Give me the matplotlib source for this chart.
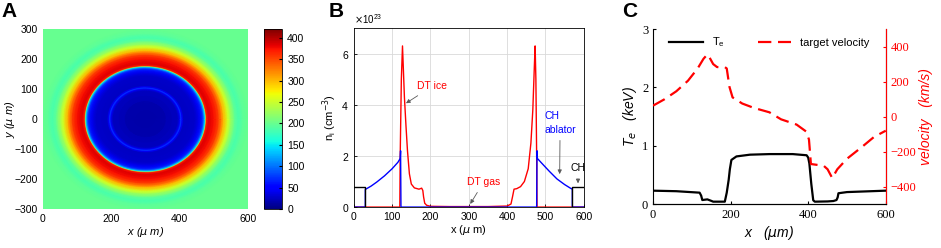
import numpy as np
import matplotlib
matplotlib.use('Agg')
import matplotlib.pyplot as plt
from matplotlib.ticker import ScalarFormatter

# ---- panel A: radial profile of the map (um, value)
a_r = [0, 60, 95, 101, 104, 107, 112, 145, 155, 163, 168, 172, 175, 176.5,
       178, 185, 200, 215, 228, 240, 250, 262, 272, 285, 300, 450]
a_val = [12, 20, 25, 50, 80, 50, 25, 28, 40, 60, 75, 120, 150, 250,
         370, 385, 375, 350, 300, 255, 225, 195, 185, 195, 200, 200]
a_center = (300, 0)
a_ticks = [0, 50, 100, 150, 200, 250, 300, 350, 400]

# ---- panel B: ion density (units of 1e23 cm^-3)
b_ch_l_x = [0, 30, 30]
b_ch_l_y = [0.8, 0.8, 0]
b_ch_r_x = [570, 570, 600]
b_ch_r_y = [0, 0.8, 0.8]
b_abl_x = [0, 30, 30, 45, 60, 80, 100, 115, 121, 122, 123, 477, 478, 479,
           490, 510, 530, 550, 565, 570, 570, 600]
b_abl_y = [0, 0, 0.69, 0.82, 0.98, 1.22, 1.5, 1.75, 1.9, 2.2, 0, 0, 2.2, 1.9,
           1.72, 1.4, 1.1, 0.88, 0.74, 0.7, 0, 0]
b_dt_x = [0, 120, 121, 124, 127, 129, 132, 136, 140, 145, 150, 158, 170, 177,
          180, 182, 185, 190, 200, 250, 300, 350, 400, 410, 414, 418, 425, 435,
          445, 455, 462, 467, 471, 473, 475, 477, 478, 600]
b_dt_y = [0, 0, 2.0, 5.0, 6.3, 5.5, 4.3, 3.2, 2.2, 1.3, 0.9, 0.75, 0.7, 0.74,
          0.65, 0.4, 0.15, 0.07, 0.03, 0.02, 0.02, 0.02, 0.04, 0.12, 0.4, 0.7,
          0.72, 0.8, 1.0, 1.5, 2.5, 3.8, 5.5, 6.3, 5.0, 2.0, 0, 0]
b_scale = 1e23

# ---- panel C: electron temperature (keV) and target velocity (km/s)
c_te_x = [0, 60, 120, 124, 127, 140, 150, 155, 185, 190, 195, 198, 202, 215,
          250, 301, 360, 396, 400, 403, 408, 413, 417, 450, 465, 473, 476,
          478, 500, 600]
c_te_y = [0.234, 0.225, 0.2, 0.15, 0.074, 0.085, 0.06, 0.046, 0.046, 0.2,
          0.42, 0.6, 0.76, 0.82, 0.85, 0.86, 0.86, 0.84, 0.8, 0.7, 0.35,
          0.07, 0.046, 0.05, 0.057, 0.074, 0.12, 0.19, 0.21, 0.234]
c_v_x = [0, 30, 60, 90, 115, 130, 140, 145, 155, 165, 185, 190, 197, 205,
         230, 260, 300, 330, 370, 395, 402, 407, 440, 450, 462, 475, 500,
         540, 570, 600]
c_v_y = [63, 100, 145, 205, 275, 330, 355, 340, 300, 283, 283, 275, 170,
         110, 75, 50, 25, -15, -45, -85, -130, -270, -280, -300, -350, -300,
         -240, -170, -115, -80]

plt.rcParams['font.family'] = ['Liberation Sans', 'DejaVu Sans']
plt.rcParams['xtick.direction'] = 'in'
plt.rcParams['ytick.direction'] = 'in'

fig = plt.figure(figsize=(9.41, 2.48), dpi=100)

# ================= A
axA = fig.add_axes([0.0454, 0.157, 0.218, 0.725])
cax = fig.add_axes([0.281, 0.157, 0.019, 0.725])
theta = np.linspace(0, 2 * np.pi, 721)
R, T = np.meshgrid(np.array(a_r, float), theta)
V = np.tile(np.array(a_val, float), (len(theta), 1))
X = a_center[0] + R * np.cos(T)
Y = a_center[1] + R * np.sin(T)
mesh = axA.pcolormesh(X, Y, V, cmap='jet', vmin=0, vmax=420, shading='gouraud')
axA.set_xlim(0, 600)
axA.set_ylim(-300, 300)
axA.set_xticks([0, 200, 400, 600])
axA.set_yticks(range(-300, 301, 100))
axA.tick_params(labelsize=7.5, length=0)
axA.set_xlabel('x ($\\mu$ m)', fontsize=8, style='italic', labelpad=1)
axA.set_ylabel('y ($\\mu$ m)', fontsize=8, style='italic', labelpad=-2)
for s in axA.spines.values():
    s.set_visible(False)
cb = fig.colorbar(mesh, cax=cax, ticks=a_ticks)
cb.ax.tick_params(labelsize=7.5, direction='in', length=2)
cb.outline.set_linewidth(0.6)
fig.text(0.002, 0.93, 'A', fontsize=15, fontweight='bold')

# ================= B
axB = fig.add_axes([0.376, 0.165, 0.2444, 0.722])
axB.plot(b_dt_x, np.array(b_dt_y) * b_scale, color='red', lw=1)
axB.plot(b_abl_x, np.array(b_abl_y) * b_scale, color='blue', lw=1)
axB.plot(b_ch_l_x, np.array(b_ch_l_y) * b_scale, color='black', lw=1)
axB.plot(b_ch_r_x, np.array(b_ch_r_y) * b_scale, color='black', lw=1)
axB.set_xlim(0, 600)
axB.set_ylim(0, 7e23)
axB.set_xticks(range(0, 601, 100))
axB.set_yticks([0, 2e23, 4e23, 6e23])
fmt = ScalarFormatter(useMathText=True)
fmt.set_powerlimits((0, 0))
axB.yaxis.set_major_formatter(fmt)
axB.yaxis.get_offset_text().set_fontsize(7)
axB.grid(True, color='0.85', lw=0.6)
axB.tick_params(labelsize=7.5, length=2, width=0.6)
for s in axB.spines.values():
    s.set_linewidth(0.6)
axB.set_xlabel('x ($\\mu$ m)', fontsize=8, labelpad=1)
axB.set_ylabel('n$_\\mathregular{i}$ (cm$^{-3}$)', fontsize=8, labelpad=2)
arw = dict(arrowstyle='-|>', color='0.35', lw=0.6, mutation_scale=6)
axB.annotate('DT ice', xy=(130, 4.0e23), xytext=(165, 4.6e23), color='red',
             fontsize=7.5, arrowprops=arw)
axB.annotate('DT gas', xy=(300, 0.03e23), xytext=(295, 0.85e23), color='red',
             fontsize=7.5, arrowprops=arw)
axB.annotate('CH\nablator', xy=(537, 1.18e23), xytext=(497, 2.9e23),
             color='blue', fontsize=7.5, arrowprops=arw, linespacing=1.5)
axB.annotate('CH', xy=(585, 0.82e23), xytext=(565, 1.4e23), color='black',
             fontsize=7.5, arrowprops=arw)
fig.text(0.349, 0.93, 'B', fontsize=15, fontweight='bold')

# ================= C
axC = fig.add_axes([0.694, 0.176, 0.2473, 0.707])
axV = axC.twinx()
axC.plot(c_te_x, c_te_y, color='black', lw=1.6, label='T$_\\mathregular{e}$')
axV.plot(c_v_x, c_v_y, color='red', lw=1.6, ls=(0, (6, 3)),
         label='target velocity')
axC.set_xlim(0, 600)
axC.set_ylim(0, 3)
axV.set_ylim(-500, 500)
axC.set_xticks([0, 200, 400, 600])
axC.set_yticks([0, 1, 2, 3])
axV.set_yticks([-400, -200, 0, 200, 400])
serif = ['Liberation Serif', 'DejaVu Serif']
for lab in axC.get_xticklabels() + axC.get_yticklabels() + axV.get_yticklabels():
    lab.set_family(serif)
axC.tick_params(labelsize=9, length=2.5)
axV.tick_params(labelsize=9, length=2.5, colors='red')
axC.spines['top'].set_visible(False)
axV.spines['top'].set_visible(False)
axV.spines['right'].set_color('red')
axV.spines['left'].set_visible(False)
axC.set_xlabel('x   ($\\mu$m)', fontsize=10, style='italic', labelpad=2)
axC.set_ylabel('T$_\\mathit{e}$   (keV)', fontsize=10, style='italic', labelpad=2)
axV.set_ylabel('velocity   (km/s)', fontsize=10, style='italic', color='red',
               labelpad=2)
h1, l1 = axC.get_legend_handles_labels()
h2, l2 = axV.get_legend_handles_labels()
axC.legend(h1 + h2, l1 + l2, loc='upper center', ncol=2, frameon=False,
           fontsize=8, handlelength=3, columnspacing=3,
           bbox_to_anchor=(0.5, 1.02))
fig.text(0.661, 0.93, 'C', fontsize=15, fontweight='bold')

fig.savefig('out.png', dpi=100)
